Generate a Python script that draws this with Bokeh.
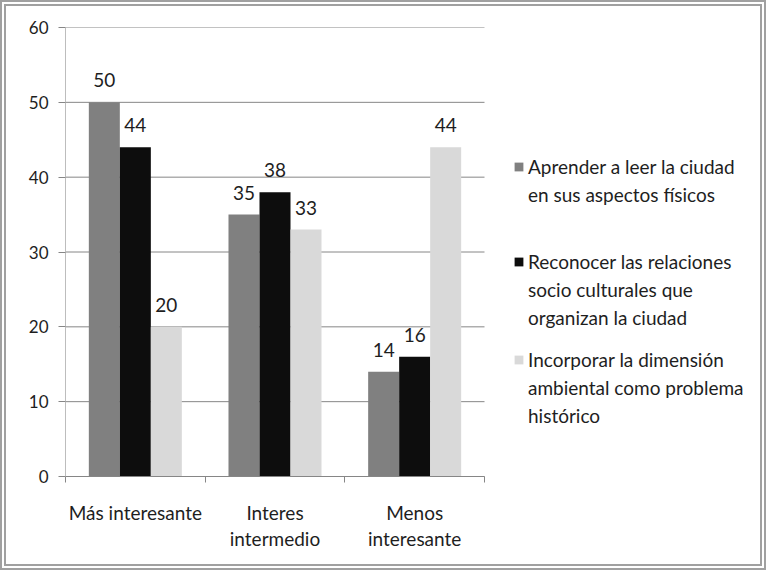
from bokeh.plotting import figure
from bokeh.models import (ColumnDataSource, FixedTicker, Legend, LegendItem, Range1d)
from bokeh.core.properties import value
from bokeh.transform import dodge
from bokeh.embed import file_html
from bokeh.resources import INLINE

categories = ["Más interesante", "Interes\nintermedio", "Menos\ninteresante"]
series_names = [
    ["Aprender a leer la ciudad", "en sus aspectos físicos"],
    ["Reconocer las relaciones", "socio culturales que", "organizan la ciudad"],
    ["Incorporar la dimensión", "ambiental como problema", "histórico"],
]
aprender = [50, 35, 14]
reconocer = [44, 38, 16]
incorporar = [20, 33, 44]
y_ticks = [0, 10, 20, 30, 40, 50, 60]

colors = ["#808080", "#0d0d0d", "#d9d9d9"]
FONT = "Lato"
FS = "19px"
FS_TICK = "17px"
TXT = "#1e1e1e"

W, H = 766, 570
LEFT, TOP, RIGHT = 59, 21, 8
frame_h = 449
BOTTOM = H - TOP - frame_h
frame_w = W - LEFT - RIGHT
plot_w = 419  # pixel width of the category area
ncat = len(categories)
xmax = ncat * frame_w / plot_w

xpos = [i + 0.5 for i in range(ncat)]
src = ColumnDataSource(dict(
    x=xpos, a=aprender, r=reconocer, i=incorporar,
    at=[str(v) for v in aprender], rt=[str(v) for v in reconocer], it=[str(v) for v in incorporar],
))

p = figure(width=W, height=H, output_backend="svg", toolbar_location=None,
           x_range=Range1d(0, xmax), y_range=Range1d(0, 60),
           min_border_left=LEFT, min_border_right=RIGHT, min_border_top=TOP, min_border_bottom=BOTTOM)
p.styles = {"border": "6px double #a0a0a0", "box-sizing": "border-box"}
p.outline_line_color = None
p.background_fill_color = "white"
p.border_fill_color = "white"

# horizontal gridlines limited to the category area
p.segment(x0=[0] * len(y_ticks), x1=[ncat] * len(y_ticks), y0=y_ticks, y1=y_ticks,
          line_color="#868686", line_width=1)

bw = 0.222
cols = ["a", "r", "i"]
tcols = ["at", "rt", "it"]
offs = [-bw, 0, bw]
renderers = []
for c, tc, off, col in zip(cols, tcols, offs, colors):
    r = p.vbar(x=dodge("x", off), top=c, width=bw, bottom=0, source=src,
               fill_color=col, line_color=None)
    renderers.append(r)
    p.text(x=dodge("x", off), y=c, text=tc, source=src, text_align="center",
           text_baseline="middle", y_offset=-22, text_font=value(FONT),
           text_font_size=FS, text_color=TXT)

# axes
p.xaxis.bounds = (0, ncat)
p.xaxis.ticker = FixedTicker(ticks=xpos, minor_ticks=list(range(ncat + 1)))
p.xaxis.major_label_overrides = {x: c for x, c in zip(xpos, categories)}
p.xaxis.major_tick_line_color = None
p.xaxis.minor_tick_line_color = "#868686"
p.xaxis.minor_tick_out = 6
p.xaxis.minor_tick_in = 0
p.xaxis.axis_line_color = "#868686"
p.xaxis.major_label_text_font = FONT
p.xaxis.major_label_text_font_size = FS
p.xaxis.major_label_text_color = TXT
p.xaxis.major_label_text_line_height = 1.15
p.xaxis.major_label_standoff = 18

p.yaxis.ticker = FixedTicker(ticks=y_ticks, minor_ticks=[])
p.yaxis.axis_line_color = "#bdbdbd"
p.yaxis.major_tick_line_color = "#868686"
p.yaxis.major_tick_out = 7
p.yaxis.major_tick_in = 0
p.yaxis.major_label_text_font = FONT
p.yaxis.major_label_text_font_size = FS_TICK
p.yaxis.major_label_text_color = TXT
p.yaxis.major_label_standoff = 10

p.xgrid.grid_line_color = None
p.ygrid.grid_line_color = None

# legends: one per series, first line carries the swatch
dummy = p.vbar(x=[], top=[], width=0.1, fill_alpha=0, line_alpha=0)
frame_top_page = 35
item_h = 22.8
sp = 5
centers = [175, 270, 368]
for names, r, cy in zip(series_names, renderers, centers):
    items = [LegendItem(label=names[0], renderers=[r])]
    for extra in names[1:]:
        items.append(LegendItem(label=extra, renderers=[dummy]))
    n = len(names)
    h = n * item_h + (n - 1) * sp
    top_rel = cy - frame_top_page - item_h / 2
    lg = Legend(items=items, location=(448, round(frame_h - (top_rel + h))),
                orientation="vertical", border_line_color=None,
                background_fill_alpha=0, padding=0, margin=0, spacing=sp,
                label_height=20, glyph_width=11, glyph_height=11, label_standoff=4,
                label_text_font=FONT, label_text_font_size=FS,
                label_text_color=TXT)
    p.add_layout(lg, "center")

open("out.html", "w").write(file_html(p, INLINE))
